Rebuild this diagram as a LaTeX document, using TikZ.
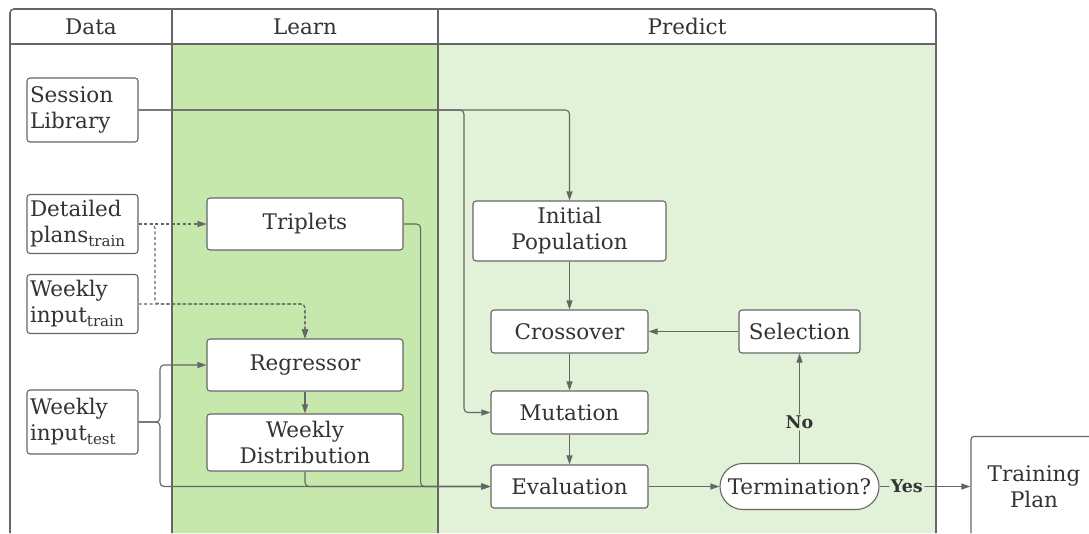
\documentclass[tikz,border=0pt]{standalone}
\usepackage{fontspec}
\setmainfont{DejaVu Serif}
\usepackage{xcolor}
\usepackage{tikz}
\usetikzlibrary{arrows.meta,positioning,calc}

\definecolor{linegray}{HTML}{666666}
\definecolor{textgray}{HTML}{333333}
\definecolor{learngreen}{HTML}{C7E8AD}
\definecolor{predgreen}{HTML}{E2F2D8}

\begin{document}
\begin{tikzpicture}[x=1pt, y=1pt, >={Triangle[length=9pt,width=6pt]}, line width=1.1pt, rounded corners=4pt,
  box/.style={draw=linegray, fill=white, text=textgray, rounded corners=3pt, font=\fontsize{21.5}{26}\selectfont, align=center, minimum width=196pt, inner sep=3pt},
  inbox/.style={box, align=left, text width=105pt, minimum width=111pt},
  line/.style={->, draw=linegray},
  dline/.style={->, draw=linegray, dashed, dash pattern=on 3pt off 2.5pt}]
\useasboundingbox (0,0) rectangle (1089,-533);
\clip (0,0) rectangle (1089,-533);

% lanes
\fill[learngreen] (172,-44) rectangle (438,-560);
\fill[predgreen] (438,-44) rectangle (936,-560);
\draw[linegray, line width=1.6pt] (10,-560) -- (10,-9) -- (936,-9) -- (936,-560);
\draw[linegray, line width=1.6pt] (10,-44) -- (936,-44);
\draw[linegray, line width=1.6pt] (172,-9) -- (172,-560);
\draw[linegray, line width=1.6pt] (438,-9) -- (438,-560);
\tikzstyle{lanehead}=[text=textgray, font=\fontsize{21.5}{24}\selectfont]
\node[lanehead] (hdata) at (91,-26.5) {Data};
\node[lanehead] (hlearn) at (305,-26.5) {Learn};
\node[lanehead] (hpred) at (687,-26.5) {Predict};

% data
\node[inbox, minimum height=64pt] (sess) at (82.5,-110) {Session\\Library};
\node[inbox, minimum height=59pt] (detail) [below of=sess, node distance=114pt] {Detailed\\plans\textsubscript{train}};
\node[inbox, minimum height=59pt] (wtrain) [below of=detail, node distance=80pt] {Weekly\\input\textsubscript{train}};
\node[inbox, minimum height=64pt] (wtest) [below of=wtrain, node distance=118pt] {Weekly\\input\textsubscript{test}};

% learn
\node[box, minimum height=52pt] (trip) at (305,-224) {Triplets};
\node[box, minimum height=52pt] (regr) [below of=trip, node distance=141pt] {Regressor};
\node[box, minimum height=57pt] (wdist) [below of=regr, node distance=77.5pt] {Weekly\\Distribution};

% predict
\node[box, minimum width=193pt, minimum height=60pt] (init) at (569.5,-231) {Initial\\Population};
\node[box, minimum width=157pt, minimum height=43pt] (cross) [below of=init, node distance=100.5pt] {Crossover};
\node[box, minimum width=157pt, minimum height=43pt] (mut) [below of=cross, node distance=81pt] {Mutation};
\node[box, minimum width=157pt, minimum height=43pt] (eval) [below of=mut, node distance=74pt] {Evaluation};
\node[box, minimum width=121pt, minimum height=43pt] (sel) [right of=cross, node distance=230pt] {Selection};
\node[box, minimum width=159pt, minimum height=46pt, rounded corners=23pt, inner sep=1pt] (term) [right of=eval, node distance=230pt] {Termination?};
\node[box, minimum width=126pt, minimum height=100pt] (plan) [right of=term, node distance=234.5pt] {Training\\Plan};

\coordinate (sbr) at (464,-110);
\coordinate (dbr) at (155,-304);
\coordinate (tbr) at (160,-422);

\tikzstyle{every node}=[font=\fontsize{17.5}{20}\selectfont\bfseries, text=textgray, fill=predgreen, inner sep=1.5pt]
\draw[line] (sess.east) -| (init.north);
\draw[line] (sess.east) -- (sbr) |- (mut.west);

\draw[dline] (detail.east) -- (trip.west);
\draw[dline] (detail.east) -| (dbr) -| (regr.north);
\draw[dline] (wtrain.east) -| (regr.north);

\draw[line] (wtest.east) -- (tbr) |- (regr.west);
\draw[line] (wtest.east) -- (tbr) |- (eval.west);
\draw[line] (regr) -- (wdist);
\draw[line] (wdist.south) |- (eval.west);
\draw[line] (trip.east) -- ++(17,0) |- (eval.west);

\draw[line] (init) -- (cross);
\draw[line] (cross) -- (mut);
\draw[line] (mut) -- (eval);
\draw[line] (eval) -- (term);
\draw[line] (term) -- node[pos=0.37] {No} (sel);
\draw[line] (sel) -- (cross);
\draw[line] (term) -- node[pos=0.3] {Yes} (plan);
\end{tikzpicture}
\end{document}
